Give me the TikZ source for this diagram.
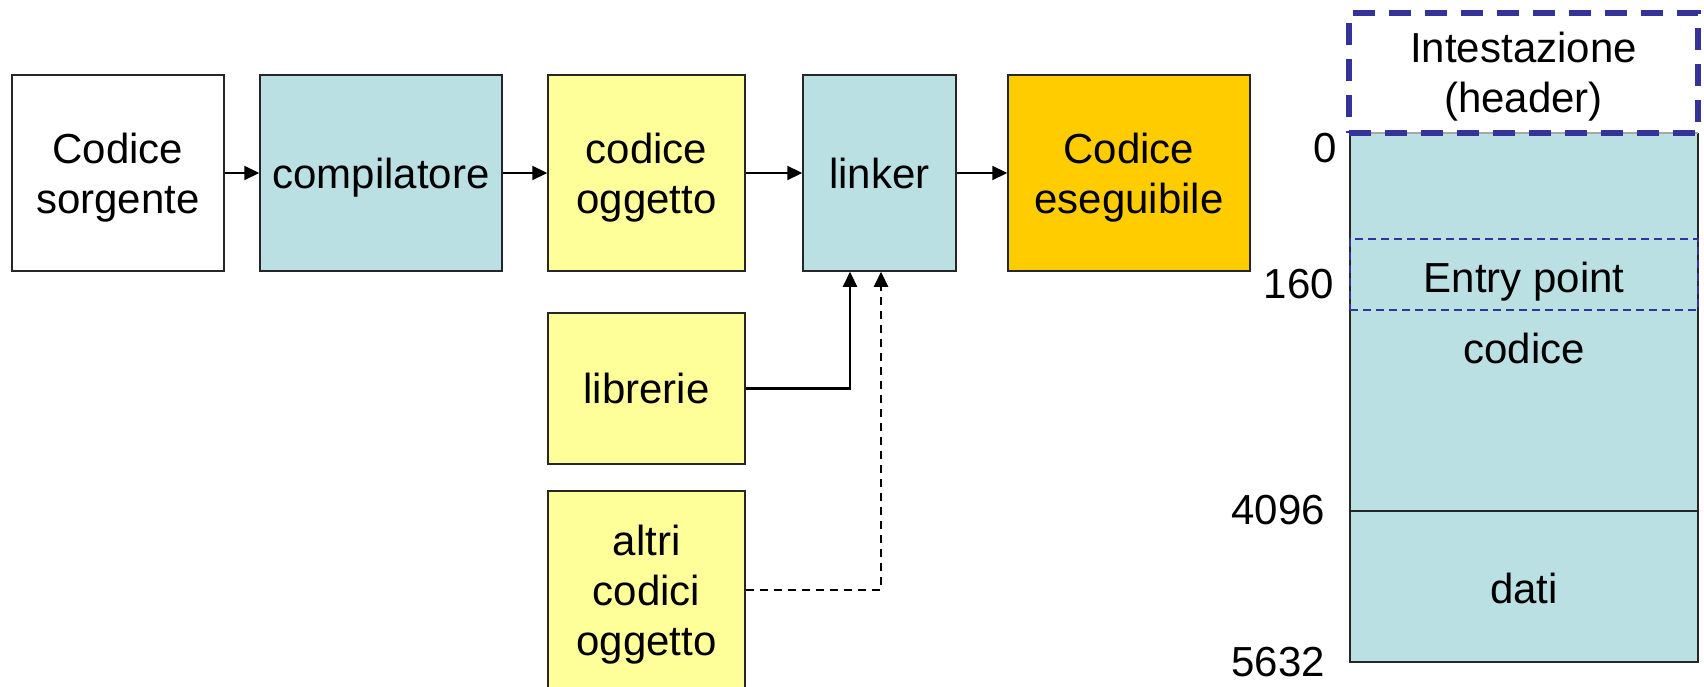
\documentclass[tikz,border=0pt]{standalone}
\usepackage{fontspec}
\setmainfont{Liberation Sans}
\usetikzlibrary{arrows.meta}
\definecolor{lblue}{HTML}{BBE0E3}
\definecolor{lyellow}{HTML}{FFFF99}
\definecolor{gold}{HTML}{FFCC00}
\definecolor{hdrblue}{HTML}{333399}
\begin{document}
\begin{tikzpicture}[x=1pt,y=-1pt,
  box/.style={draw=black!85,line width=1.5pt,align=center,inner sep=0pt,text depth=0pt,font=\fontsize{42}{50}\selectfont},
  lbl/.style={font=\fontsize{42}{50}\selectfont,inner sep=0pt},
  arr/.style={line width=2.2pt,-{Triangle[length=15pt,width=14pt]}},
  dasharr/.style={arr,dash pattern=on 8pt off 6pt}]
\useasboundingbox (0,0) rectangle (1704,687);
% pipeline
\node[box,minimum width=212pt,minimum height=196pt,fill=white] (src) at (118,173) {Codice\\sorgente};
\node[box,minimum width=242pt,minimum height=196pt,fill=lblue] (comp) at (381,173) {compilatore};
\node[box,minimum width=197pt,minimum height=196pt,fill=lyellow] (obj) at (646.5,173) {codice\\oggetto};
\node[box,minimum width=153pt,minimum height=196pt,fill=lblue] (linker) at (879.5,173) {linker};
\node[box,minimum width=242pt,minimum height=196pt,fill=gold] (exe) at (1129,173) {Codice\\eseguibile};
\node[box,minimum width=197pt,minimum height=151pt,fill=lyellow] (lib) at (646.5,388.5) {librerie};
\node[box,minimum width=197pt,minimum height=198pt,fill=lyellow] (altri) at (646.5,590) {altri\\codici\\oggetto};
\draw[arr] (src) -- (comp);
\draw[arr] (comp) -- (obj);
\draw[arr] (obj) -- (linker);
\draw[arr] (linker) -- (exe);
\draw[arr] (lib.east) -| ([xshift=-29.5pt]linker.south);
\draw[dasharr] (altri.east) -| ([xshift=1.5pt]linker.south);
% memory layout
\node[fill=lblue,inner sep=0pt,minimum width=348pt,minimum height=529pt] (mem) at (1524,397.5) {};
\draw[black!85,line width=1.5pt] (mem.north west) -- (mem.south west) -- (mem.south east) -- (mem.north east);
\draw[black!35,line width=1.5pt] (mem.north west) -- (mem.north east);
\coordinate (splitL) at (1350,511);
\coordinate (splitR) at (1698,511);
\draw[black!85,line width=1.5pt] (splitL) -- (splitR);
\node[draw=hdrblue,line width=1.3pt,dash pattern=on 8pt off 5pt,inner sep=0pt,minimum width=348pt,minimum height=71pt] (entry) at (1524,274.5) {};
\node[draw=hdrblue,line width=5.5pt,dash pattern=on 22pt off 14pt,inner sep=0pt,minimum width=349pt,minimum height=120pt] (hdr) at (1523.5,73) {};
\node[lbl,anchor=base] (hdr1) at (1523.5,63) {Intestazione};
\node[lbl,anchor=base] (hdr2) at (1523.5,113) {(header)};
\node[lbl,anchor=base] (entrytxt) at (1524,292) {Entry point};
\node[lbl,anchor=base] (codtxt) at (1524,363) {codice};
\node[lbl,anchor=base] (datitxt) at (1524,603) {dati};
\node[lbl,anchor=base east] (n0) at (1337,163) {0};
\node[lbl,anchor=base east] (n160) at (1334,298) {160};
\node[lbl,anchor=base east] (n4096) at (1325,524) {4096};
\node[lbl,anchor=base east] (n5632) at (1325,676) {5632};
\end{tikzpicture}
\end{document}
